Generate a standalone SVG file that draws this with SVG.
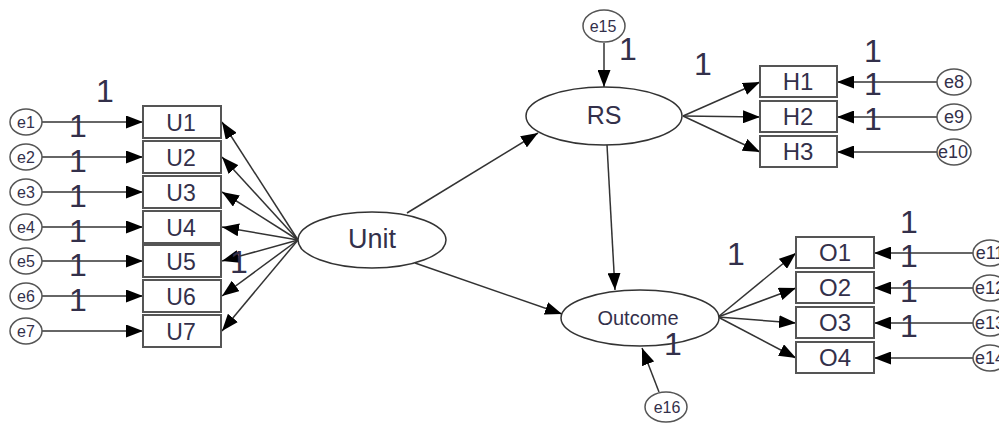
<svg xmlns="http://www.w3.org/2000/svg" width="999" height="433" viewBox="0 0 999 433">
<style>
.bg{fill:#fff}
.box{fill:#fff;stroke:#555;stroke-width:2}
.lat{fill:#fff;stroke:#333;stroke-width:1.5}
.err{fill:#fff;stroke:#555;stroke-width:1.5}
.lbl{font-family:"Liberation Sans",Arial,sans-serif;fill:#33304a;text-anchor:middle}
.el{font-size:16px}
.er{font-size:18px}
.bx{font-size:23px}
.one{font-family:"Liberation Sans",Arial,sans-serif;fill:#33304a;text-anchor:middle;font-size:32px}
.c{stroke:#333;stroke-width:1.5;fill:none;marker-end:url(#ah)}
</style>
<defs>
<marker id="ah" markerUnits="userSpaceOnUse" markerWidth="17" markerHeight="13" refX="17" refY="6.5" orient="auto">
<path d="M0,0 L17,6.5 L0,13 z" fill="#000"/>
</marker>
</defs>
<rect class="bg" x="0" y="0" width="999" height="433"/>
<g id="connectors">
<line class="c" x1="42" y1="122" x2="143" y2="122"/>
<line class="c" x1="42" y1="157" x2="143" y2="157"/>
<line class="c" x1="42" y1="192" x2="143" y2="192"/>
<line class="c" x1="42" y1="227" x2="143" y2="227"/>
<line class="c" x1="42" y1="261" x2="143" y2="261"/>
<line class="c" x1="42" y1="296" x2="143" y2="296"/>
<line class="c" x1="42" y1="331" x2="143" y2="331"/>
<line class="c" x1="298" y1="240" x2="222" y2="122"/>
<line class="c" x1="298" y1="240" x2="222" y2="157"/>
<line class="c" x1="298" y1="240" x2="222" y2="192"/>
<line class="c" x1="298" y1="240" x2="222" y2="227"/>
<line class="c" x1="298" y1="240" x2="222" y2="261"/>
<line class="c" x1="298" y1="240" x2="222" y2="296"/>
<line class="c" x1="298" y1="240" x2="222" y2="331"/>
<line class="c" x1="407" y1="213" x2="538" y2="133"/>
<line class="c" x1="415" y1="263" x2="562" y2="314"/>
<line class="c" x1="604" y1="43" x2="604" y2="87"/>
<line class="c" x1="607" y1="145" x2="615" y2="290"/>
<line class="c" x1="683" y1="116" x2="760" y2="82"/>
<line class="c" x1="683" y1="116" x2="760" y2="117"/>
<line class="c" x1="683" y1="116" x2="760" y2="152"/>
<line class="c" x1="937" y1="82" x2="837" y2="82"/>
<line class="c" x1="937" y1="117" x2="837" y2="117"/>
<line class="c" x1="937" y1="152" x2="837" y2="152"/>
<line class="c" x1="718" y1="317" x2="796" y2="253"/>
<line class="c" x1="718" y1="317" x2="796" y2="288"/>
<line class="c" x1="718" y1="317" x2="796" y2="323"/>
<line class="c" x1="718" y1="317" x2="796" y2="358"/>
<line class="c" x1="973" y1="253" x2="874" y2="253"/>
<line class="c" x1="973" y1="288" x2="874" y2="288"/>
<line class="c" x1="973" y1="323" x2="874" y2="323"/>
<line class="c" x1="973" y1="358" x2="874" y2="358"/>
<line class="c" x1="659" y1="392" x2="642" y2="348"/>
</g>
<g id="U1"><rect class="box" x="143" y="106" width="78" height="32"/><text class="lbl bx" x="181" y="131">U1</text></g>
<g id="U2"><rect class="box" x="143" y="141" width="78" height="32"/><text class="lbl bx" x="181" y="166">U2</text></g>
<g id="U3"><rect class="box" x="143" y="176" width="78" height="32"/><text class="lbl bx" x="181" y="201">U3</text></g>
<g id="U4"><rect class="box" x="143" y="211" width="78" height="32"/><text class="lbl bx" x="181" y="236">U4</text></g>
<g id="U5"><rect class="box" x="143" y="245" width="78" height="32"/><text class="lbl bx" x="181" y="270">U5</text></g>
<g id="U6"><rect class="box" x="143" y="280" width="78" height="32"/><text class="lbl bx" x="181" y="305">U6</text></g>
<g id="U7"><rect class="box" x="143" y="315" width="78" height="32"/><text class="lbl bx" x="181" y="340">U7</text></g>
<g id="e1"><ellipse class="err" cx="26" cy="122" rx="16" ry="13"/><text class="lbl el" x="26" y="128">e1</text></g>
<g id="e2"><ellipse class="err" cx="26" cy="157" rx="16" ry="13"/><text class="lbl el" x="26" y="163">e2</text></g>
<g id="e3"><ellipse class="err" cx="26" cy="192" rx="16" ry="13"/><text class="lbl el" x="26" y="198">e3</text></g>
<g id="e4"><ellipse class="err" cx="26" cy="227" rx="16" ry="13"/><text class="lbl el" x="26" y="233">e4</text></g>
<g id="e5"><ellipse class="err" cx="26" cy="261" rx="16" ry="13"/><text class="lbl el" x="26" y="267">e5</text></g>
<g id="e6"><ellipse class="err" cx="26" cy="296" rx="16" ry="13"/><text class="lbl el" x="26" y="302">e6</text></g>
<g id="e7"><ellipse class="err" cx="26" cy="331" rx="16" ry="13"/><text class="lbl el" x="26" y="337">e7</text></g>
<g id="Unit"><ellipse class="lat" cx="372" cy="240" rx="74" ry="28"/><text class="lbl" x="372" y="248" font-size="27">Unit</text></g>
<g id="RS"><ellipse class="lat" cx="604" cy="116" rx="78" ry="29"/><text class="lbl" x="604" y="124" font-size="25">RS</text></g>
<g id="Outcome"><ellipse class="lat" cx="640" cy="318" rx="79" ry="28"/><text class="lbl" x="638" y="325" font-size="20">Outcome</text></g>
<g id="e15"><ellipse class="err" cx="604" cy="26" rx="21" ry="16"/><text class="lbl" x="603" y="32" font-size="16">e15</text></g>
<g id="e16"><ellipse class="err" cx="666" cy="407" rx="21" ry="15"/><text class="lbl" x="667" y="413" font-size="16">e16</text></g>
<g id="H1"><rect class="box" x="760" y="66" width="77" height="31"/><text class="lbl" x="798" y="90" font-size="24">H1</text></g>
<g id="H2"><rect class="box" x="760" y="101" width="77" height="31"/><text class="lbl" x="798" y="125" font-size="24">H2</text></g>
<g id="H3"><rect class="box" x="760" y="136" width="77" height="31"/><text class="lbl" x="798" y="160" font-size="24">H3</text></g>
<g id="e8"><ellipse class="err" cx="954" cy="82" rx="17" ry="13"/><text class="lbl er" x="954" y="88">e8</text></g>
<g id="e9"><ellipse class="err" cx="954" cy="117" rx="17" ry="13"/><text class="lbl er" x="954" y="123">e9</text></g>
<g id="e10"><ellipse class="err" cx="954" cy="152" rx="17" ry="13"/><text class="lbl er" x="953" y="158">e10</text></g>
<g id="O1"><rect class="box" x="796" y="237" width="78" height="31"/><text class="lbl" x="835" y="261" font-size="24">O1</text></g>
<g id="O2"><rect class="box" x="796" y="272" width="78" height="31"/><text class="lbl" x="835" y="296" font-size="24">O2</text></g>
<g id="O3"><rect class="box" x="796" y="307" width="78" height="31"/><text class="lbl" x="835" y="331" font-size="24">O3</text></g>
<g id="O4"><rect class="box" x="796" y="342" width="78" height="31"/><text class="lbl" x="835" y="366" font-size="24">O4</text></g>
<g id="e11"><ellipse class="err" cx="990" cy="253" rx="17" ry="13"/><text class="lbl er" x="990" y="259">e11</text></g>
<g id="e12"><ellipse class="err" cx="990" cy="288" rx="17" ry="13"/><text class="lbl er" x="990" y="294">e12</text></g>
<g id="e13"><ellipse class="err" cx="990" cy="323" rx="17" ry="13"/><text class="lbl er" x="990" y="329">e13</text></g>
<g id="e14"><ellipse class="err" cx="990" cy="358" rx="17" ry="13"/><text class="lbl er" x="990" y="364">e14</text></g>
<g id="weights">
<text class="one" x="105" y="102">1</text>
<text class="one" x="78" y="137">1</text>
<text class="one" x="78" y="172">1</text>
<text class="one" x="78" y="207">1</text>
<text class="one" x="78" y="242">1</text>
<text class="one" x="78" y="276">1</text>
<text class="one" x="78" y="311">1</text>
<text class="one" x="239" y="273">1</text>
<text class="one" x="628" y="60">1</text>
<text class="one" x="703" y="75">1</text>
<text class="one" x="873" y="62">1</text>
<text class="one" x="873" y="95">1</text>
<text class="one" x="873" y="130">1</text>
<text class="one" x="736" y="265">1</text>
<text class="one" x="909" y="233">1</text>
<text class="one" x="909" y="267">1</text>
<text class="one" x="909" y="302">1</text>
<text class="one" x="909" y="337">1</text>
<text class="one" x="673" y="355">1</text>
</g>
</svg>
